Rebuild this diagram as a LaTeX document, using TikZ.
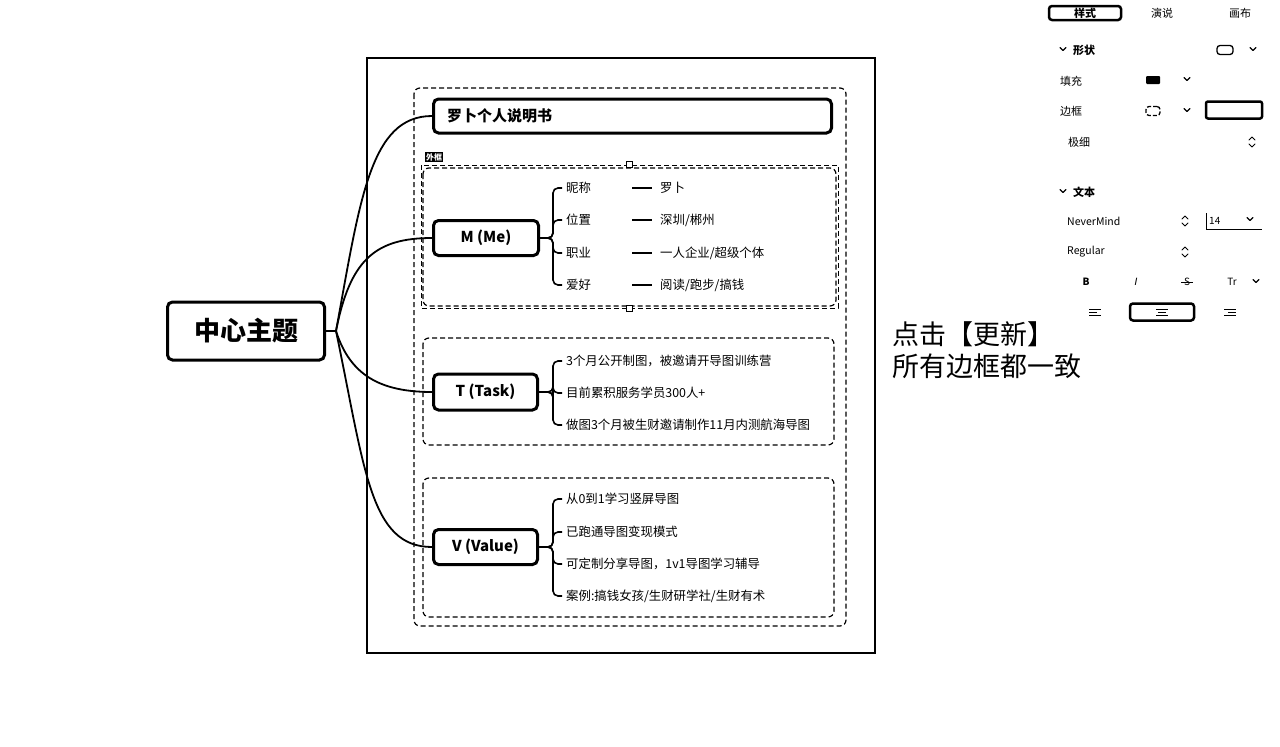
\documentclass[tikz,border=0pt]{standalone}
\usepackage{fontspec}
\setmainfont{Noto Sans CJK SC}
\newfontfamily\dv{DejaVu Sans}
\usetikzlibrary{calc}
\tikzset{
  box/.style={draw, line width=3pt, rounded corners=5pt, font=\bfseries\fontsize{15}{18}\selectfont, inner sep=0pt, anchor=west},
  leaf/.style={anchor=west, inner sep=0pt, font=\fontsize{12.4}{14}\selectfont},
  branch/.style={line width=1.6pt, rounded corners=5pt},
  curve/.style={line width=1.8pt},
  grp/.style={draw, dashed, line width=1.2pt, rounded corners=6pt, dash pattern=on 5pt off 3pt},
  ui/.style={anchor=west, inner sep=0pt, font=\fontsize{11}{13}\selectfont},
  tick/.style={line width=2pt},
  icon/.style={line width=1.3pt, line cap=round, line join=round},
}
\newcommand\chev[2]{\draw[icon] ($(#1,#2)+(-3,-1.5)$) -- ($(#1,#2)+(0,1.5)$) -- ($(#1,#2)+(3,-1.5)$);}
\newcommand\updn[2]{\draw[icon,line width=1pt] ($(#1,#2)+(-3,-2)$) -- ($(#1,#2)+(0,-5)$) -- ($(#1,#2)+(3,-2)$);
  \draw[icon,line width=1pt] ($(#1,#2)+(-3,2)$) -- ($(#1,#2)+(0,5)$) -- ($(#1,#2)+(3,2)$);}
\begin{document}
\begin{tikzpicture}[x=1pt,y=-1pt]
\useasboundingbox (0,0) rectangle (1280,747);
% frames
\draw[line width=2pt] (367,58) rectangle (875,653);
\draw[grp] (414,88) rectangle (846,626);
\draw[grp] (423,168) rectangle (836,306);
\draw[dashed, line width=1pt, dash pattern=on 5pt off 3pt] (421,165) rectangle (838,308);
\node[draw, fill=white, minimum size=6pt, inner sep=0pt, line width=1pt] (hs1) at (629,164) {};
\node[draw, fill=white, minimum size=6pt, inner sep=0pt, line width=1pt] (hs2) at (629,308) {};
\node[fill=black, text=white, inner sep=1pt, font=\fontsize{8}{9}\selectfont\bfseries] (tag) at (434,157) {外框};
\draw[grp] (423,338) rectangle (834,445);
\draw[grp] (423,478) rectangle (834,617);

% root and main nodes
\node[box, minimum width=157pt, minimum height=58pt, font=\bfseries\fontsize{26}{30}\selectfont] (root) at (166,331) {中心主题};
\node[box, minimum width=398pt, minimum height=34pt, align=left] (title) at (432,116) {\hspace*{6pt}罗卜个人说明书\hspace*{272pt}};
\node[box, minimum width=105pt, minimum height=35pt] (m) at (432,238) {M (Me)};
\node[box, minimum width=104pt, minimum height=36pt] (t) at (432,392) {T (Task)};
\node[box, minimum width=104pt, minimum height=35pt] (v) at (432,547) {V (Value)};

\coordinate (j) at (336,331);
\draw[curve] (root.east) -- (j);
\draw[curve] (j) .. controls (360,200) and (370,116) .. (title.west);
\draw[curve] (j) .. controls (350,260) and (375,238) .. (m.west);
\draw[curve] (j) .. controls (350,375) and (380,392) .. (t.west);
\draw[curve] (j) .. controls (365,470) and (370,547) .. (v.west);

% M children
\node[leaf] (m1) at (566,188) {昵称};
\node[leaf] (m2) at (566,220) {位置};
\node[leaf] (m3) at (566,253) {职业};
\node[leaf] (m4) at (566,285) {爱好};
\foreach \c in {m1,m2,m3,m4} \draw[branch] (m.east) -- ++(13,0) |- ([xshift=-4pt]\c.west);
\node[leaf] (n1) at (660,188) {罗卜};
\node[leaf] (n2) at (660,220) {深圳/郴州};
\node[leaf] (n3) at (660,253) {一人企业/超级个体};
\node[leaf] (n4) at (660,285) {阅读/跑步/搞钱};
\foreach \c in {n1,n2,n3,n4} \draw[tick] ([xshift=-28pt]\c.west) -- ([xshift=-8pt]\c.west);

% T children
\node[leaf] (t1) at (566,361) {3个月公开制图，被邀请开导图训练营};
\node[leaf] (t2) at (566,393) {目前累积服务学员300人+};
\node[leaf] (t3) at (566,425) {做图3个月被生财邀请制作11月内测航海导图};
\foreach \c in {t1,t2,t3} \draw[branch] (t.east) -- ++(14,0) |- ([xshift=-4pt]\c.west);

% V children
\node[leaf] (v1) at (566,499) {从0到1学习竖屏导图};
\node[leaf] (v2) at (566,532) {已跑通导图变现模式};
\node[leaf] (v3) at (566,564) {可定制分享导图，1v1导图学习辅导};
\node[leaf] (v4) at (566,596) {案例:搞钱女孩/生财研学社/生财有术};
\foreach \c in {v1,v2,v3,v4} \draw[branch] (v.east) -- ++(14,0) |- ([xshift=-4pt]\c.west);

% annotation
\node[anchor=west, inner sep=0pt, font=\fontsize{27}{32}\selectfont, align=left] (note) at (892,350) {点击【更新】\\所有边框都一致};

% right panel
\node[draw, line width=2.5pt, rounded corners=3pt, minimum width=72pt, minimum height=14pt, inner sep=0pt, font=\bfseries\fontsize{11}{13}\selectfont] (tab1) at (1085,13) {样式};
\node[font=\fontsize{11}{13}\selectfont, inner sep=0pt] (tab2) at (1162,13) {演说};
\node[font=\fontsize{11}{13}\selectfont, inner sep=0pt] (tab3) at (1240,13) {画布};

\chev{1063}{49}
\node[ui, font=\bfseries\fontsize{11}{13}\selectfont] (s1) at (1073,50) {形状};
\node[draw, line width=1.3pt, rounded corners=3pt, minimum width=16pt, minimum height=9pt, inner sep=0pt] (shp) at (1225,50) {};
\chev{1253}{49}

\node[ui] (fill) at (1060,81) {填充};
\node[fill=black, minimum width=14pt, minimum height=8pt, inner sep=0pt, rounded corners=1pt] (sw) at (1153,80) {};
\chev{1187}{79}

\node[ui] (bord) at (1060,111) {边框};
\node[draw, dashed, line width=1.3pt, rounded corners=3pt, minimum width=14pt, minimum height=9pt, inner sep=0pt, dash pattern=on 4pt off 2pt] (bi) at (1153,111) {};
\chev{1187}{110}
\node[draw, line width=2.5pt, rounded corners=2pt, minimum width=56pt, minimum height=17pt, inner sep=0pt] (bbox) at (1234,110) {};

\node[ui] (thin) at (1068,142) {极细};
\updn{1252}{142}

\chev{1063}{191}
\node[ui, font=\bfseries\fontsize{11}{13}\selectfont] (s2) at (1073,192) {文本};
\node[ui, font=\fontsize{10.5}{12}\selectfont] (fnt) at (1067,221) {NeverMind};
\updn{1185}{221}
\node[ui, font=\fontsize{10}{12}\selectfont] (sz) at (1209,221) {14};
\draw[line width=0.8pt] (1206,213) -- (1206,229);
\draw[line width=0.8pt] (1206,229) -- (1262,229);
\chev{1250}{219}
\node[ui, font=\fontsize{10.5}{12}\selectfont] (rg) at (1067,252) {Regular};
\updn{1185}{252}

\node[inner sep=0pt, font=\bfseries\fontsize{10}{12}\selectfont] (bb) at (1086,282) {B};
\node[inner sep=0pt, font=\dv\itshape\fontsize{10}{12}\selectfont] (ii) at (1136,282) {I};
\node[inner sep=0pt, font=\fontsize{10}{12}\selectfont] (ss) at (1187,282) {S};
\draw[line width=1pt] (1181,282) -- (1193,282);
\node[inner sep=0pt, font=\fontsize{10}{12}\selectfont] (tr) at (1232,282) {Tr};
\chev{1256}{281}

\coordinate (al) at (1095,312);
\draw[line width=0.9pt] ($(al)+(-6,-3)$) -- ++(12,0) ($(al)+(-6,0)$) -- ++(8,0) ($(al)+(-6,3)$) -- ++(12,0);
\node[draw, line width=2.5pt, rounded corners=3pt, minimum width=64pt, minimum height=17pt, inner sep=0pt] (ac) at (1162,312) {};
\draw[line width=0.9pt] (1156,309) -- ++(12,0) (1158,312) -- ++(8,0) (1156,315) -- ++(12,0);
\coordinate (ar) at (1230,312);
\draw[line width=0.9pt] ($(ar)+(-6,-3)$) -- ++(12,0) ($(ar)+(-2,0)$) -- ++(8,0) ($(ar)+(-6,3)$) -- ++(12,0);
\end{tikzpicture}
\end{document}
